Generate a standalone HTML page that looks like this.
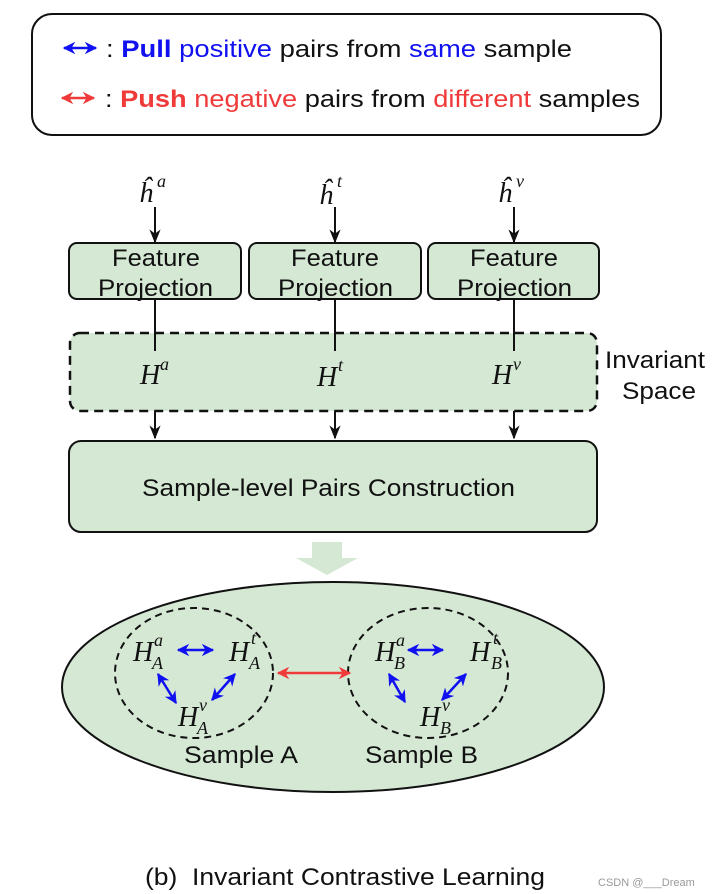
<!DOCTYPE html>
<html><head><meta charset="utf-8"><style>
body{margin:0;background:#fff}
svg{display:block}
text{font-family:"Liberation Sans",sans-serif;font-size:24px;fill:#111}
.m{font-family:"Liberation Serif",serif;font-style:italic;font-size:28px}
.s{font-family:"Liberation Serif",serif;font-style:italic;font-size:18px}
</style></head><body>
<svg width="714" height="894" viewBox="0 0 714 894" xmlns="http://www.w3.org/2000/svg">
<defs>
<marker id="k" viewBox="0 0 10 10" refX="9" refY="5" markerWidth="7" markerHeight="7" orient="auto-start-reverse"><path d="M0,1 L10,5 L0,9 L3,5z" fill="#111"/></marker>
<marker id="b" viewBox="0 0 10 10" refX="9" refY="5" markerWidth="5" markerHeight="5" orient="auto-start-reverse"><path d="M0,0 L10,5 L0,10 L3,5z" fill="#1010f0"/></marker>
<marker id="r" viewBox="0 0 10 10" refX="9" refY="5" markerWidth="5" markerHeight="5" orient="auto-start-reverse"><path d="M0,0 L10,5 L0,10 L3,5z" fill="#f03a3a"/></marker>
</defs>
<rect x="32" y="14" width="629" height="121" rx="20" fill="#fff" stroke="#111" stroke-width="2"/>
<line x1="64" y1="48" x2="96" y2="48" stroke="#1010f0" stroke-width="2.5" marker-start="url(#b)" marker-end="url(#b)"/>
<text x="106" y="57" textLength="466" lengthAdjust="spacingAndGlyphs">: <tspan fill="#1010f0" font-weight="bold">Pull</tspan> <tspan fill="#1010f0">positive</tspan> pairs from <tspan fill="#1010f0">same</tspan> sample</text>
<line x1="62" y1="98" x2="94" y2="98" stroke="#f03a3a" stroke-width="2.5" marker-start="url(#r)" marker-end="url(#r)"/>
<text x="105" y="107" textLength="535" lengthAdjust="spacingAndGlyphs">: <tspan fill="#f03a3a" font-weight="bold">Push</tspan> <tspan fill="#f03a3a">negative</tspan> pairs from <tspan fill="#f03a3a">different</tspan> samples</text>

<text class="m" x="139" y="202">ĥ</text><text class="s" x="157" y="187">a</text>
<text class="m" x="319" y="204">ĥ</text><text class="s" x="337" y="187">t</text>
<text class="m" x="498" y="202">ĥ</text><text class="s" x="516" y="187">v</text>
<g stroke="#111" stroke-width="2" marker-end="url(#k)">
<line x1="155" y1="207" x2="155" y2="242"/><line x1="335" y1="207" x2="335" y2="242"/><line x1="514" y1="207" x2="514" y2="242"/>
<line x1="155" y1="299" x2="155" y2="351"/><line x1="335" y1="299" x2="335" y2="351"/><line x1="514" y1="299" x2="514" y2="351"/>
<line x1="155" y1="392" x2="155" y2="438"/><line x1="335" y1="392" x2="335" y2="438"/><line x1="514" y1="392" x2="514" y2="438"/>
</g>
<g fill="#d5e8d4" stroke="#111" stroke-width="2">
<rect x="69" y="243" width="172" height="56" rx="8"/><rect x="249" y="243" width="172" height="56" rx="8"/><rect x="428" y="243" width="171" height="56" rx="8"/>
</g>
<text x="112" y="266" textLength="88" lengthAdjust="spacingAndGlyphs">Feature</text><text x="98" y="296" textLength="115" lengthAdjust="spacingAndGlyphs">Projection</text>
<text x="291" y="266" textLength="88" lengthAdjust="spacingAndGlyphs">Feature</text><text x="278" y="296" textLength="115" lengthAdjust="spacingAndGlyphs">Projection</text>
<text x="470" y="266" textLength="88" lengthAdjust="spacingAndGlyphs">Feature</text><text x="457" y="296" textLength="115" lengthAdjust="spacingAndGlyphs">Projection</text>
<rect x="70" y="333" width="527" height="78" rx="10" fill="#d5e8d4" stroke="#111" stroke-width="2.5" stroke-dasharray="9,6"/>
<g stroke="#111" stroke-width="2"><line x1="155" y1="333" x2="155" y2="351"/><line x1="335" y1="333" x2="335" y2="351"/><line x1="514" y1="333" x2="514" y2="351"/></g>
<text class="m" x="140" y="384">H</text><text class="s" x="160" y="370">a</text>
<text class="m" x="317" y="386">H</text><text class="s" x="338" y="371">t</text>
<text class="m" x="492" y="384">H</text><text class="s" x="513" y="370">v</text>
<text x="605" y="368" textLength="100" lengthAdjust="spacingAndGlyphs">Invariant</text><text x="622" y="399" textLength="74" lengthAdjust="spacingAndGlyphs">Space</text>
<rect x="69" y="441" width="528" height="91" rx="12" fill="#d5e8d4" stroke="#111" stroke-width="2"/>
<text x="142" y="496" textLength="373" lengthAdjust="spacingAndGlyphs">Sample-level Pairs Construction</text>
<path d="M312,542 H342 V558 H358 L327,575 L296,558 H312z" fill="#d5e8d4"/>
<ellipse cx="333" cy="687" rx="271" ry="105" fill="#d5e8d4" stroke="#111" stroke-width="2"/>
<ellipse cx="194" cy="673" rx="79" ry="65" fill="none" stroke="#111" stroke-width="2" stroke-dasharray="7,5"/>
<ellipse cx="428" cy="673" rx="80" ry="65" fill="none" stroke="#111" stroke-width="2" stroke-dasharray="7,5"/>
<line x1="278" y1="673" x2="350" y2="673" stroke="#f03a3a" stroke-width="2.5" marker-start="url(#r)" marker-end="url(#r)"/>
<g stroke="#1010f0" stroke-width="2.5" marker-start="url(#b)" marker-end="url(#b)">
<line x1="178" y1="650" x2="213" y2="650"/><line x1="158" y1="674" x2="176" y2="703"/><line x1="235" y1="674" x2="212" y2="700"/>
<line x1="408" y1="650" x2="443" y2="650"/><line x1="389" y1="674" x2="405" y2="702"/><line x1="466" y1="674" x2="442" y2="700"/>
</g>
<text class="m" x="133" y="661">H</text><text class="s" x="154" y="646">a</text><text class="s" x="152" y="669">A</text>
<text class="m" x="229" y="661">H</text><text class="s" x="251" y="644">t</text><text class="s" x="249" y="669">A</text>
<text class="m" x="178" y="726">H</text><text class="s" x="199" y="711">v</text><text class="s" x="197" y="734">A</text>
<text class="m" x="375" y="661">H</text><text class="s" x="396" y="646">a</text><text class="s" x="394" y="669">B</text>
<text class="m" x="470" y="661">H</text><text class="s" x="493" y="644">t</text><text class="s" x="491" y="669">B</text>
<text class="m" x="420" y="726">H</text><text class="s" x="442" y="711">v</text><text class="s" x="440" y="734">B</text>
<text x="184" y="763" textLength="114" lengthAdjust="spacingAndGlyphs">Sample A</text>
<text x="365" y="763" textLength="113" lengthAdjust="spacingAndGlyphs">Sample B</text>
<text x="145" y="885" textLength="400" lengthAdjust="spacingAndGlyphs">(b)&#160;&#160;Invariant Contrastive Learning</text>
<text x="598" y="886" style="font-size:11px;fill:#999">CSDN @___Dream</text>
</svg>
</body></html>
